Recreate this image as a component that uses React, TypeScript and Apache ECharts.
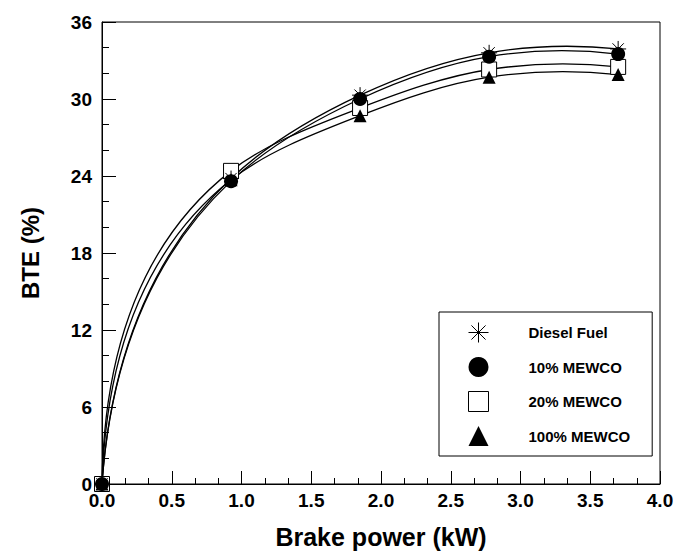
import React, { useEffect, useRef } from "react";
import * as echarts from "echarts";

const brakePower = [0, 0.925, 1.85, 2.775, 3.7];
const dieselFuel = [0, 23.8, 30.3, 33.6, 33.9];
const mewco10 = [0, 23.6, 30.0, 33.3, 33.5];
const mewco20 = [0, 24.4, 29.3, 32.3, 32.5];
const mewco100 = [0, 23.7, 28.7, 31.7, 31.9];
const seriesNames = ["Diesel Fuel", "10% MEWCO", "20% MEWCO", "100% MEWCO"];

const ASTERISK = "path://M10,0L10,20M0,10L20,10M2.93,2.93L17.07,17.07M2.93,17.07L17.07,2.93";

// Chord-length cubic Hermite spline through pixel points -> bezier segments
function splineSegments(p: number[][]) {
  const n = p.length;
  const d: number[] = [];
  const u: number[][] = [];
  for (let i = 0; i < n - 1; i++) {
    const dx = p[i + 1][0] - p[i][0];
    const dy = p[i + 1][1] - p[i][1];
    const len = Math.hypot(dx, dy) || 1;
    d.push(len);
    u.push([dx / len, dy / len]);
  }
  const m: number[][] = new Array(n);
  for (let i = 1; i < n - 1; i++) {
    const s = d[i - 1] + d[i];
    const w0 = d[i] / s;
    const w1 = d[i - 1] / s;
    m[i] = [w0 * u[i - 1][0] + w1 * u[i][0], w0 * u[i - 1][1] + w1 * u[i][1]];
  }
  m[0] = [2 * u[0][0] - m[1][0], 2 * u[0][1] - m[1][1]];
  m[n - 1] = [2 * u[n - 2][0] - m[n - 2][0], 2 * u[n - 2][1] - m[n - 2][1]];
  const segs = [];
  for (let i = 0; i < n - 1; i++) {
    const k = d[i] / 3;
    segs.push({
      x1: p[i][0],
      y1: p[i][1],
      cpx1: p[i][0] + m[i][0] * k,
      cpy1: p[i][1] + m[i][1] * k,
      cpx2: p[i + 1][0] - m[i + 1][0] * k,
      cpy2: p[i + 1][1] - m[i + 1][1] * k,
      x2: p[i + 1][0],
      y2: p[i + 1][1],
    });
  }
  return segs;
}

export default function App() {
  const ref = useRef<HTMLDivElement>(null);
  useEffect(() => {
    document.body.style.margin = "0";
    const chart = echarts.init(ref.current!, null, { renderer: "svg" });
    const font = "'Liberation Sans', Arial, sans-serif";
    const values = [dieselFuel, mewco10, mewco20, mewco100];
    const symbols = [ASTERISK, "circle", "rect", "triangle"];
    const itemStyles = [
      { color: "rgba(0,0,0,0)", borderColor: "#000", borderWidth: 1, opacity: 1 },
      { color: "#000", borderColor: "#000", borderWidth: 0, opacity: 1 },
      { color: "#fff", borderColor: "#000", borderWidth: 1, opacity: 1 },
      { color: "#000", borderColor: "#000", borderWidth: 0, opacity: 1 },
    ];
    const sizes = [16, 14, 15, 13];
    const zOrder = [8, 6, 5, 7];
    const curveSeries = values.map((v, i) => ({
      name: seriesNames[i] + " curve",
      type: "custom",
      silent: true,
      z: 2,
      data: brakePower.map((x, j) => [x, v[j]]),
      encode: { x: 0, y: 1 },
      renderItem: (params: any, api: any) => {
        if (params.dataIndex !== 0) return null;
        const pts = brakePower.map((x, j) => api.coord([x, v[j]]));
        return {
          type: "group",
          children: splineSegments(pts).map((s) => ({
            type: "bezierCurve",
            shape: s,
            style: { stroke: "#000", lineWidth: 1.3, fill: null },
          })),
        };
      },
    }));
    const scatterSeries = values.map((v, i) => ({
      name: seriesNames[i],
      type: "scatter",
      symbol: symbols[i],
      symbolSize: sizes[i],
      data: brakePower.map((x, j) => [x, v[j]]),
      itemStyle: itemStyles[i],
      z: zOrder[i],
    }));
    chart.setOption({
      animation: false,
      grid: {
        left: 102,
        top: 22,
        right: 19,
        bottom: 66,
        show: true,
        borderColor: "#000",
        borderWidth: 1,
      },
      legend: {
        orient: "vertical",
        left: 439,
        top: 312,
        padding: [10, 22, 10, 29],
        itemWidth: 20,
        itemHeight: 20,
        itemGap: 14,
        borderColor: "#000",
        borderWidth: 1,
        backgroundColor: "#fff",
        selectedMode: false,
        data: seriesNames.map((n, i) => ({ name: n, icon: symbols[i], itemStyle: itemStyles[i] })),
        formatter: (name: string) => `{g|}${name}`,
        textStyle: {
          fontFamily: font,
          fontWeight: "bold",
          fontSize: 15,
          color: "#000",
          rich: { g: { width: 35 } },
        },
      },
      xAxis: {
        type: "value",
        min: 0,
        max: 4,
        interval: 0.5,
        name: "Brake power (kW)",
        nameLocation: "middle",
        nameGap: 40,
        nameTextStyle: { fontFamily: font, fontWeight: "bold", fontSize: 25, color: "#000" },
        axisLine: { lineStyle: { color: "#000", width: 1 } },
        axisTick: { inside: true, length: 13, lineStyle: { color: "#000" } },
        minorTick: { show: true, splitNumber: 3, length: 6, lineStyle: { color: "#000" } },
        splitLine: { show: false },
        axisLabel: {
          fontFamily: font,
          fontWeight: "bold",
          fontSize: 19,
          color: "#000",
          margin: 7,
          formatter: (v: number) => v.toFixed(1),
        },
      },
      yAxis: {
        type: "value",
        min: 0,
        max: 36,
        interval: 6,
        name: "BTE (%)",
        nameLocation: "middle",
        nameGap: 60,
        nameTextStyle: { fontFamily: font, fontWeight: "bold", fontSize: 24, color: "#000" },
        axisLine: { show: true, lineStyle: { color: "#000", width: 1 } },
        axisTick: { show: true, inside: true, length: 14, lineStyle: { color: "#000" } },
        minorTick: { show: true, splitNumber: 3, length: 7, lineStyle: { color: "#000" } },
        splitLine: { show: false },
        axisLabel: {
          fontFamily: font,
          fontWeight: "bold",
          fontSize: 19,
          color: "#000",
          margin: 10,
        },
      },
      series: [...curveSeries, ...scatterSeries],
    });
    return () => chart.dispose();
  }, []);
  return <div ref={ref} style={{ width: 679, height: 554 }} />;
}
